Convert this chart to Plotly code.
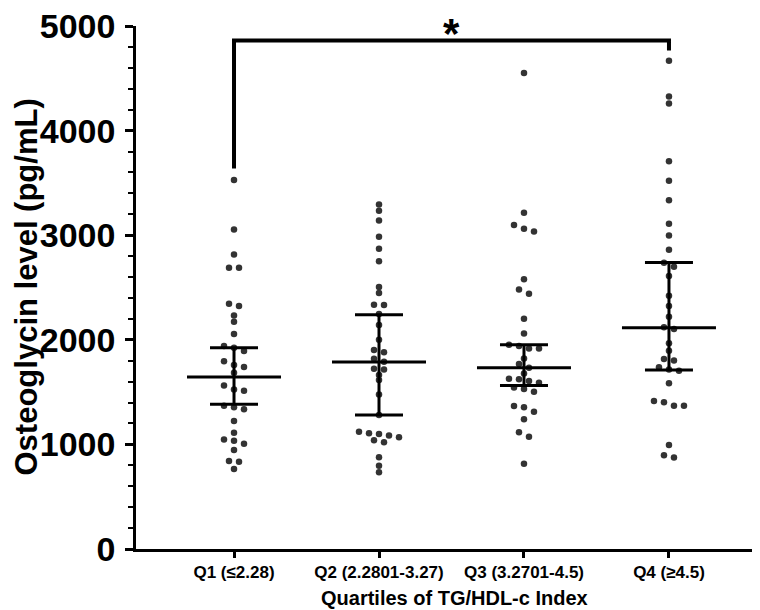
import plotly.graph_objects as go

# ---------------- data ----------------
categories = ["Q1 (≤2.28)", "Q2 (2.2801-3.27)", "Q3 (3.2701-4.5)", "Q4 (≥4.5)"]

q1_values = [3527, 3055, 2816, 2689, 2689, 2345, 2322, 2233, 2173, 2055, 1940, 1925, 1892,
             1794, 1758, 1739, 1686, 1562, 1526, 1514, 1370, 1354, 1335, 1223, 1112, 1048,
             1036, 1007, 946, 841, 835, 765]
q2_values = [3294, 3234, 3141, 2986, 2871, 2752, 2504, 2447, 2336, 2332, 2246, 2141, 2001,
             1902, 1880, 1820, 1791, 1724, 1717, 1663, 1615, 1478, 1281, 1122, 1106, 1099,
             1084, 1068, 1039, 1020, 876, 797, 733]
q3_values = [4550, 3215, 3097, 3062, 3036, 2578, 2482, 2441, 2202, 2061, 1953, 1940, 1918,
             1918, 1822, 1768, 1733, 1679, 1628, 1622, 1606, 1590, 1545, 1529, 1504, 1367,
             1354, 1313, 1240, 1115, 1074, 816]
q4_values = [4668, 4327, 4260, 3708, 3521, 3333, 3110, 2998, 2861, 2737, 2699, 2609, 2422,
             2322, 2221, 2119, 2103, 1966, 1896, 1816, 1803, 1737, 1717, 1705, 1584, 1414,
             1402, 1370, 1370, 994, 896, 874]

medians = [1644, 1787, 1733, 2116]
lower_q = [1383, 1281, 1562, 1711]
upper_q = [1925, 2240, 1953, 2740]

# significance bracket: Q1 vs Q4
bracket_groups = [0, 3]
bracket_left_bottom = 3638
bracket_top = 4862
bracket_right_bottom = 4766
bracket_label = "*"

y_ticks = [0, 1000, 2000, 3000, 4000, 5000]
y_title = "Osteoglycin level (pg/mL)"
x_title = "Quartiles of TG/HDL-c Index"

# ---------------- layout constants ----------------
W, H = 760, 610
ML, MR, MT, MB = 128, 0, 18, 69
X_RANGE = [-0.676, 3.683]
Y_RANGE = [0, 5000]
plot_w = W - ML - MR
plot_h = H - MT - MB
px_per_x = plot_w / (X_RANGE[1] - X_RANGE[0])
px_per_y = plot_h / (Y_RANGE[1] - Y_RANGE[0])

DOT = "#333333"


def swarm_offsets(vals, gap_px=4.5, extent_px=6.5, spacing_px=10):
    """Simple beeswarm: group near-equal values into rows, centre each row."""
    order = sorted(range(len(vals)), key=lambda i: -vals[i])
    rows = []
    for i in order:
        y = vals[i] * px_per_y
        if rows:
            last = rows[-1]
            y_prev = vals[last[-1]] * px_per_y
            y_start = vals[last[0]] * px_per_y
            if (y_prev - y) < gap_px and (y_start - y) < extent_px:
                last.append(i)
                continue
        rows.append([i])
    offs = [0.0] * len(vals)
    for row in rows:
        n = len(row)
        for k, i in enumerate(row):
            offs[i] = (k - (n - 1) / 2) * spacing_px / px_per_x
    return offs


fig = go.Figure()

groups = [q1_values, q2_values, q3_values, q4_values]
for gi, vals in enumerate(groups):
    offs = swarm_offsets(vals)
    fig.add_trace(go.Scatter(
        x=[gi + o for o in offs], y=vals, mode="markers",
        marker=dict(size=6.5, color=DOT, line=dict(width=0)),
        cliponaxis=False, showlegend=False, hoverinfo="y"))

MED_HALF = 47 / px_per_x
CAP_HALF = 24 / px_per_x
for gi in range(len(categories)):
    fig.add_trace(go.Scatter(x=[gi, gi], y=[lower_q[gi], upper_q[gi]], mode="lines",
                             line=dict(color="black", width=3), showlegend=False,
                             hoverinfo="skip"))
    for v in (lower_q[gi], upper_q[gi]):
        fig.add_trace(go.Scatter(x=[gi - CAP_HALF, gi + CAP_HALF], y=[v, v], mode="lines",
                                 line=dict(color="black", width=3), showlegend=False,
                                 hoverinfo="skip"))
    fig.add_trace(go.Scatter(x=[gi - MED_HALF, gi + MED_HALF], y=[medians[gi], medians[gi]],
                             mode="lines", line=dict(color="black", width=3),
                             showlegend=False, hoverinfo="skip"))

# bracket
bx0, bx1 = bracket_groups
fig.add_trace(go.Scatter(
    x=[bx0, bx0, bx1, bx1],
    y=[bracket_left_bottom, bracket_top, bracket_top, bracket_right_bottom],
    mode="lines", line=dict(color="black", width=4), cliponaxis=False,
    showlegend=False, hoverinfo="skip"))

FONT = "Arial, Liberation Sans, Helvetica, sans-serif"

# asterisk: box anchored to the very top of the page so it is not cut off
fig.add_annotation(x=(bx0 + bx1) / 2, xref="x", yref="paper", y=1 + MT / plot_h,
                   text=bracket_label, showarrow=False, xanchor="center", yanchor="top",
                   font=dict(family=FONT, size=42, color="black", weight="bold"))

fig.add_annotation(xref="paper", yref="paper", x=(18 - ML) / plot_w, y=0.5,
                   text=y_title, textangle=-90, showarrow=False,
                   xanchor="center", yanchor="middle",
                   font=dict(family=FONT, size=31, color="black", weight="bold"))
fig.add_annotation(xref="paper", yref="paper", x=(446 - ML) / plot_w,
                   y=-(590 - (MT + plot_h)) / plot_h,
                   text=x_title, showarrow=False, xanchor="center", yanchor="middle",
                   font=dict(family=FONT, size=20, color="black", weight="bold"))

fig.update_layout(
    width=W, height=H,
    margin=dict(l=ML, r=MR, t=MT, b=MB, pad=0),
    plot_bgcolor="white", paper_bgcolor="white",
    showlegend=False,
    xaxis=dict(range=X_RANGE, tickvals=list(range(len(categories))), ticktext=categories,
               showgrid=False, zeroline=False, showline=True, linecolor="black",
               linewidth=2.5, ticks="outside", ticklen=6, tickwidth=2.5, tickcolor="black",
               tickfont=dict(family=FONT, size=17, color="black", weight="bold")),
    yaxis=dict(range=Y_RANGE, tickvals=y_ticks, showgrid=False, zeroline=False,
               showline=True, linecolor="black", linewidth=2.5, ticks="outside",
               ticklen=8, tickwidth=2.5, tickcolor="black", ticklabelstandoff=3,
               ticklabeloverflow="allow",
               tickfont=dict(family=FONT, size=34, color="black", weight="bold"),
               minor=dict(dtick=200, ticks="outside", ticklen=5, tickwidth=2,
                          tickcolor="black", showgrid=False)),
)

fig.write_html("out.html")
